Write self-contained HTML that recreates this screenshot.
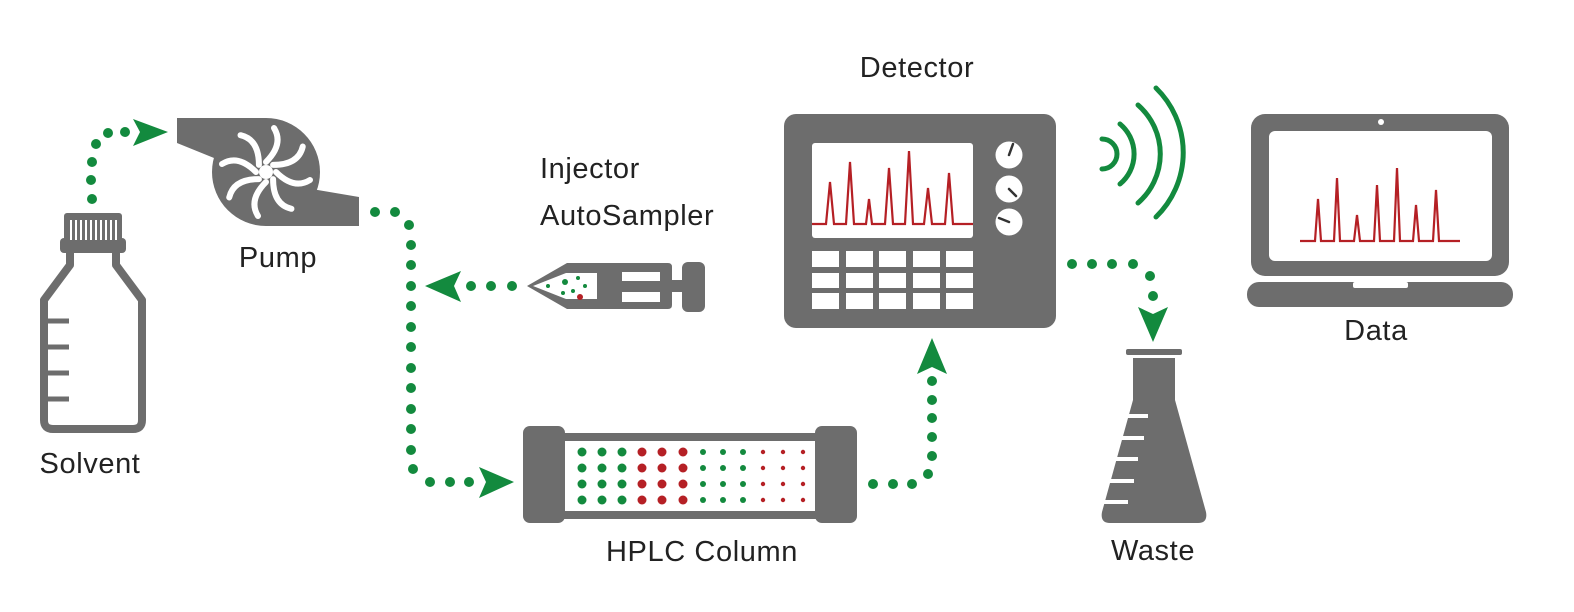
<!DOCTYPE html>
<html><head><meta charset="utf-8"><style>
html,body{margin:0;padding:0;background:#fff;}
svg{display:block;}
text{font-family:"Liberation Sans",sans-serif;font-size:29px;letter-spacing:0.6px;fill:#222;}
</style></head><body>
<svg width="1574" height="612" viewBox="0 0 1574 612" xmlns="http://www.w3.org/2000/svg">
<!-- Bottle -->
<g fill="#6d6d6d">
<rect x="64" y="213" width="58" height="32" rx="3"/>
<rect x="60" y="238" width="66" height="15" rx="4"/>
</g>
<g fill="#fff"><rect x="70" y="220" width="2" height="20"/><rect x="75" y="220" width="2" height="20"/><rect x="80" y="220" width="2" height="20"/><rect x="85" y="220" width="2" height="20"/><rect x="90" y="220" width="2" height="20"/><rect x="95" y="220" width="2" height="20"/><rect x="100" y="220" width="2" height="20"/><rect x="105" y="220" width="2" height="20"/><rect x="110" y="220" width="2" height="20"/><rect x="115" y="220" width="2" height="20"/></g>
<path d="M70,253 L70,265 L44,300 L44,420 Q44,429 53,429 L133,429 Q142,429 142,420 L142,300 L116,265 L116,253" fill="none" stroke="#6d6d6d" stroke-width="8" stroke-linejoin="round"/>
<g stroke="#6d6d6d" stroke-width="5"><line x1="44" y1="321" x2="69" y2="321"/><line x1="44" y1="347" x2="69" y2="347"/><line x1="44" y1="373" x2="69" y2="373"/><line x1="44" y1="399" x2="69" y2="399"/></g>
<!-- Pump -->
<g fill="#6d6d6d">
<circle cx="266" cy="172" r="54"/>
<polygon points="177,118 266,118 266,172 214,158 177,143"/>
<polygon points="266,172 300,187 359,197 359,226 266,226"/>
</g>
<g fill="none" stroke="#fff" stroke-width="6" stroke-linecap="round" transform="translate(266,172)">
<path d="M0,-10 Q18,-28 8,-44"/>
<path d="M0,-10 Q18,-28 8,-44" transform="rotate(45)"/>
<path d="M0,-10 Q18,-28 8,-44" transform="rotate(90)"/>
<path d="M0,-10 Q18,-28 8,-44" transform="rotate(135)"/>
<path d="M0,-10 Q18,-28 8,-44" transform="rotate(180)"/>
<path d="M0,-10 Q18,-28 8,-44" transform="rotate(225)"/>
<path d="M0,-10 Q18,-28 8,-44" transform="rotate(270)"/>
<path d="M0,-10 Q18,-28 8,-44" transform="rotate(315)"/>
</g>
<circle cx="266" cy="172" r="7" fill="#fff"/>
<!-- Injector -->
<g fill="#6d6d6d">
<path d="M527,286 L567,263 L668,263 Q672,263 672,267 L672,305 Q672,309 668,309 L567,309 Z"/>
<rect x="660" y="280" width="26" height="12"/>
<rect x="682" y="262" width="23" height="50" rx="6"/>
</g>
<polygon points="533,286 566,273 597,273 597,299 566,299" fill="#fff"/>
<rect x="622" y="272" width="38" height="9" fill="#fff"/>
<rect x="622" y="292" width="38" height="10" fill="#fff"/>
<g fill="#138a3e"><circle cx="548" cy="286" r="2"/><circle cx="565" cy="282" r="3"/><circle cx="578" cy="278" r="2"/><circle cx="585" cy="286" r="2"/><circle cx="573" cy="291" r="2"/><circle cx="563" cy="293" r="2"/></g>
<circle cx="580" cy="297" r="3" fill="#b52025"/>
<!-- Column -->
<rect x="540" y="433" width="290" height="86" fill="#6d6d6d"/>
<rect x="523" y="426" width="42" height="97" rx="7" fill="#6d6d6d"/>
<rect x="815" y="426" width="42" height="97" rx="7" fill="#6d6d6d"/>
<rect x="565" y="441" width="250" height="70" fill="#fff"/>
<g>
<g fill="#138a3e"><circle cx="582" cy="452" r="4.5"/><circle cx="602" cy="452" r="4.5"/><circle cx="622" cy="452" r="4.5"/><circle cx="582" cy="468" r="4.5"/><circle cx="602" cy="468" r="4.5"/><circle cx="622" cy="468" r="4.5"/><circle cx="582" cy="484" r="4.5"/><circle cx="602" cy="484" r="4.5"/><circle cx="622" cy="484" r="4.5"/><circle cx="582" cy="500" r="4.5"/><circle cx="602" cy="500" r="4.5"/><circle cx="622" cy="500" r="4.5"/></g>
<g fill="#b52025"><circle cx="642" cy="452" r="4.5"/><circle cx="662" cy="452" r="4.5"/><circle cx="683" cy="452" r="4.5"/><circle cx="642" cy="468" r="4.5"/><circle cx="662" cy="468" r="4.5"/><circle cx="683" cy="468" r="4.5"/><circle cx="642" cy="484" r="4.5"/><circle cx="662" cy="484" r="4.5"/><circle cx="683" cy="484" r="4.5"/><circle cx="642" cy="500" r="4.5"/><circle cx="662" cy="500" r="4.5"/><circle cx="683" cy="500" r="4.5"/></g>
<g fill="#138a3e"><circle cx="703" cy="452" r="3"/><circle cx="723" cy="452" r="3"/><circle cx="743" cy="452" r="3"/><circle cx="703" cy="468" r="3"/><circle cx="723" cy="468" r="3"/><circle cx="743" cy="468" r="3"/><circle cx="703" cy="484" r="3"/><circle cx="723" cy="484" r="3"/><circle cx="743" cy="484" r="3"/><circle cx="703" cy="500" r="3"/><circle cx="723" cy="500" r="3"/><circle cx="743" cy="500" r="3"/></g>
<g fill="#b52025"><circle cx="763" cy="452" r="2.2"/><circle cx="783" cy="452" r="2.2"/><circle cx="803" cy="452" r="2.2"/><circle cx="763" cy="468" r="2.2"/><circle cx="783" cy="468" r="2.2"/><circle cx="803" cy="468" r="2.2"/><circle cx="763" cy="484" r="2.2"/><circle cx="783" cy="484" r="2.2"/><circle cx="803" cy="484" r="2.2"/><circle cx="763" cy="500" r="2.2"/><circle cx="783" cy="500" r="2.2"/><circle cx="803" cy="500" r="2.2"/></g>
</g>
<!-- Detector -->
<rect x="784" y="114" width="272" height="214" rx="12" fill="#6d6d6d"/>
<rect x="812" y="143" width="161" height="95" rx="3" fill="#fff"/>
<polyline points="812,224 826,224 830,182 834,224 846,224 850,162 854,224 866,224 869,199 872,224 885,224 889,168 893,224 905,224 909,151 913,224 924,224 928,188 932,224 945,224 949,173 953,224 973,224" fill="none" stroke="#b52025" stroke-width="2.2"/>
<g fill="#fff">
<circle cx="1009" cy="155" r="13.5"/><circle cx="1009" cy="189" r="13.5"/><circle cx="1009" cy="222" r="13.5"/>
<rect x="812" y="251" width="27" height="16"/><rect x="846" y="251" width="27" height="16"/><rect x="879" y="251" width="27" height="16"/><rect x="913" y="251" width="27" height="16"/><rect x="946" y="251" width="27" height="16"/>
<rect x="812" y="273" width="27" height="15"/><rect x="846" y="273" width="27" height="15"/><rect x="879" y="273" width="27" height="15"/><rect x="913" y="273" width="27" height="15"/><rect x="946" y="273" width="27" height="15"/>
<rect x="812" y="293" width="27" height="16"/><rect x="846" y="293" width="27" height="16"/><rect x="879" y="293" width="27" height="16"/><rect x="913" y="293" width="27" height="16"/><rect x="946" y="293" width="27" height="16"/>
</g>
<g stroke="#333" stroke-width="2.5" stroke-linecap="round"><line x1="1009" y1="155" x2="1013" y2="144"/><line x1="1009" y1="189" x2="1016" y2="196"/><line x1="1009" y1="222" x2="999" y2="218"/></g>
<!-- Waves -->
<g fill="none" stroke="#138a3e" stroke-width="5" stroke-linecap="round">
<path d="M1102,139 A15,15 0 0 1 1102,169"/>
<path d="M1120,124 A39,39 0 0 1 1120,184"/>
<path d="M1138,105 A65,65 0 0 1 1138,203"/>
<path d="M1156,88 A90,90 0 0 1 1156,217"/>
</g>
<!-- Flask -->
<rect x="1126" y="349" width="56" height="6" rx="2" fill="#6d6d6d"/>
<path d="M1133,358 L1175,358 L1175,400 L1206,512 Q1208,523 1198,523 L1110,523 Q1100,523 1102,512 L1133,400 Z" fill="#6d6d6d"/>
<g stroke="#fff" stroke-width="4"><line x1="1128" y1="416" x2="1148" y2="416"/><line x1="1122" y1="438" x2="1144" y2="438"/><line x1="1116" y1="459" x2="1138" y2="459"/><line x1="1110" y1="481" x2="1134" y2="481"/><line x1="1104" y1="502" x2="1128" y2="502"/></g>
<!-- Laptop -->
<rect x="1251" y="114" width="258" height="162" rx="14" fill="#6d6d6d"/>
<rect x="1269" y="131" width="223" height="130" rx="6" fill="#fff"/>
<circle cx="1381" cy="122" r="3" fill="#fff"/>
<rect x="1247" y="282" width="266" height="25" rx="12" fill="#6d6d6d"/>
<rect x="1353" y="282" width="55" height="6" rx="2" fill="#fff"/>
<polyline points="1300,241 1315,241 1318,199 1321,241 1334,241 1337,178 1340,241 1354,241 1357,215 1360,241 1374,241 1377,185 1380,241 1394,241 1397,168 1400,241 1413,241 1416,205 1419,241 1433,241 1436,190 1439,241 1460,241" fill="none" stroke="#b52025" stroke-width="2.2"/>
<!-- Green dots & arrows -->
<g fill="#138a3e">
<circle cx="92" cy="199" r="5"/><circle cx="91" cy="180" r="5"/><circle cx="92" cy="162" r="5"/><circle cx="96" cy="144" r="5"/><circle cx="108" cy="133" r="5"/><circle cx="125" cy="132" r="5"/>
<polygon points="168,132 133,119 140,132 133,146"/>
<circle cx="375" cy="212" r="5"/><circle cx="395" cy="212" r="5"/><circle cx="409" cy="225" r="5"/>
<circle cx="411" cy="245" r="5"/><circle cx="411" cy="265" r="5"/><circle cx="411" cy="286" r="5"/><circle cx="411" cy="306" r="5"/><circle cx="411" cy="327" r="5"/><circle cx="411" cy="347" r="5"/><circle cx="411" cy="368" r="5"/><circle cx="411" cy="388" r="5"/><circle cx="411" cy="409" r="5"/><circle cx="411" cy="429" r="5"/><circle cx="411" cy="450" r="5"/><circle cx="413" cy="469" r="5"/><circle cx="430" cy="482" r="5"/><circle cx="450" cy="482" r="5"/><circle cx="469" cy="482" r="5"/>
<polygon points="514,482 479,467 486,482 479,498"/>
<circle cx="471" cy="286" r="5"/><circle cx="491" cy="286" r="5"/><circle cx="512" cy="286" r="5"/>
<polygon points="425,286 461,271 454,286 461,302"/>
<circle cx="873" cy="484" r="5"/><circle cx="893" cy="484" r="5"/><circle cx="912" cy="484" r="5"/><circle cx="928" cy="474" r="5"/><circle cx="932" cy="456" r="5"/><circle cx="932" cy="437" r="5"/><circle cx="932" cy="418" r="5"/><circle cx="932" cy="400" r="5"/><circle cx="932" cy="381" r="5"/>
<polygon points="932,338 917,374 932,367 947,374"/>
<circle cx="1072" cy="264" r="5"/><circle cx="1092" cy="264" r="5"/><circle cx="1112" cy="264" r="5"/><circle cx="1133" cy="264" r="5"/><circle cx="1150" cy="276" r="5"/><circle cx="1153" cy="296" r="5"/>
<polygon points="1153,342 1138,307 1153,314 1168,307"/>
</g>
<!-- Labels -->
<text x="90" y="473" text-anchor="middle">Solvent</text>
<text x="278" y="267" text-anchor="middle">Pump</text>
<text x="540" y="178">Injector</text>
<text x="540" y="225">AutoSampler</text>
<text x="917" y="77" text-anchor="middle">Detector</text>
<text x="702" y="561" text-anchor="middle">HPLC Column</text>
<text x="1153" y="560" text-anchor="middle">Waste</text>
<text x="1376" y="340" text-anchor="middle">Data</text>
</svg>
</body></html>
